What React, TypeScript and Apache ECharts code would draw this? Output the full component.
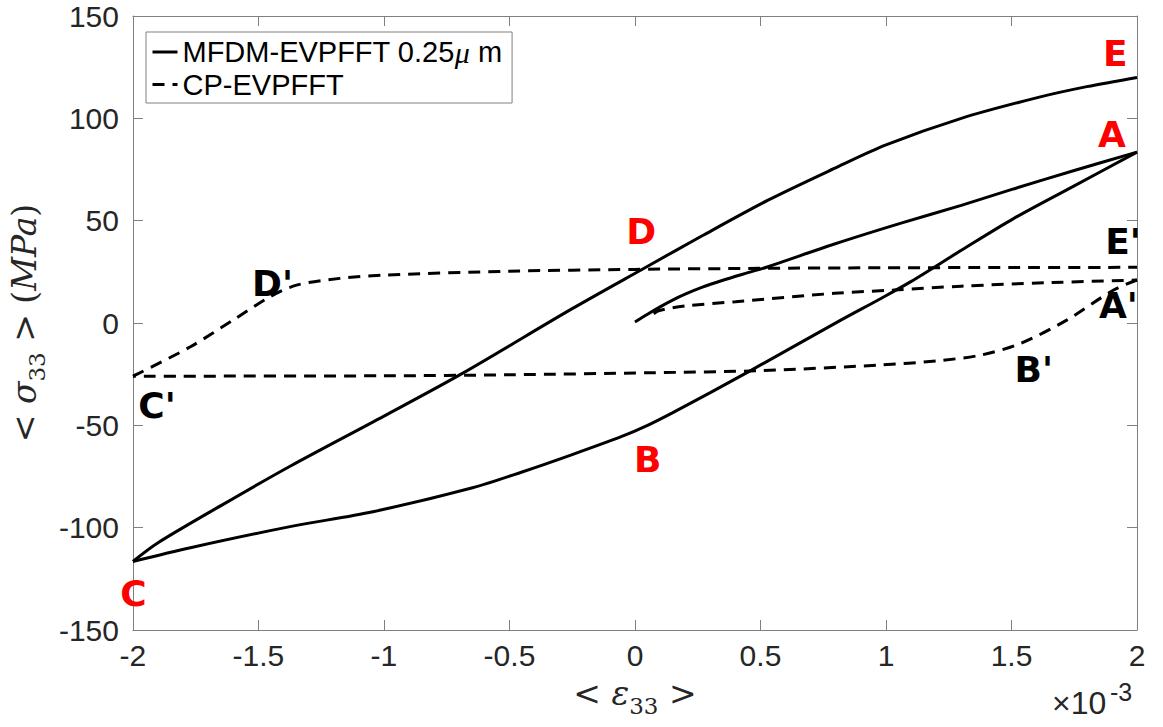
import React, { useEffect, useRef } from "react";
import * as echarts from "echarts";

// x values are in units of 1e-3 (as labelled on the axis), y in MPa
const SOLID_NAME = "MFDM-EVPFFT 0.25μ m";
const DASHED_NAME = "CP-EVPFFT";

const mfdmLoading = [
  [0.0, 0.5], [0.05, 4.3], [0.1, 7.9], [0.15, 11.2], [0.2, 14.1], [0.266, 17.4], [0.35, 20.9],
  [0.45, 24.6], [0.53, 27.5], [0.795, 38.6], [1.06, 48.8], [1.3, 57.5], [1.508, 65.5],
  [1.75, 74.5], [2.0, 83.5],
];
const mfdmUnloading = [
  [2.0, 83.5], [1.75, 67], [1.508, 51], [1.3, 35.5], [1.099, 20.2], [0.98, 12], [0.82, 1.4],
  [0.464, -23], [0.3, -34], [0.147, -44], [0.05, -50], [-0.05, -55.3], [-0.25, -64.3],
  [-0.45, -72.8], [-0.647, -80.5], [-1.044, -92.2], [-1.374, -99.5], [-1.771, -109.8],
  [-2.0, -116.5],
];
const mfdmReloading = [
  [-2.0, -116.5], [-1.903, -107.6], [-1.639, -88.5], [-1.374, -70], [-1.0, -45.5],
  [-0.693, -25], [-0.25, 7], [0.04, 27], [0.266, 42.5], [0.53, 60], [0.794, 75.5],
  [1.0, 87], [1.3, 100], [1.615, 110.5], [1.8, 115.5], [2.0, 120],
];

const cpLoading = [
  [0.075, 4.5], [0.094, 6], [0.2, 8.3], [0.4, 10.4], [0.795, 14.5], [1.03, 16.1],
  [1.3, 18], [1.64, 19.7], [2.0, 21],
];
const cpUnloading = [
  [2.0, 21], [1.905, 16], [1.72, 1.4], [1.536, -10], [1.377, -15.7], [1.2, -18.5],
  [0.98, -20.5], [0.5, -23.3], [0.067, -24.3], [-0.5, -25.3], [-1.0, -25.8], [-2.0, -26],
];
const cpReloading = [
  [-2.0, -26], [-1.983, -25], [-1.771, -11.6], [-1.6, 1.5], [-1.454, 12.8], [-1.348, 18.5],
  [-1.176, 21.8], [-1.0, 23.4], [-0.5, 25.3], [0.0, 26.2], [0.5, 26.7], [1.0, 27],
  [1.5, 27.1], [2.0, 27.2],
];

const redLabelNames = ["A", "B", "C", "D", "E"];
const redLabelPos = [[1.9, 92.2], [0.051, -66.6], [-1.998, -132.4], [0.025, 44.6], [1.914, 131.7]];
const blackLabelNames = ["A'", "B'", "C'", "D'", "E'"];
const blackLabelPos = [[1.926, 8.4], [1.589, -22.6], [-1.904, -40.1], [-1.444, 19.4], [1.944, 39.7]];

const X_MIN = -2, X_MAX = 2, X_STEP = 0.5;
const Y_MIN = -150, Y_MAX = 150, Y_STEP = 50;

const AXIS_GRAY = "#808080";
const TICK_TEXT = "#262626";
const DASH = [12, 8];

function lineSeries(name: string, data: number[][], dashed: boolean) {
  return {
    type: "line",
    name,
    data,
    symbol: "none",
    showSymbol: false,
    smooth: 0.3,
    lineStyle: { color: "#000", width: 3, type: dashed ? DASH : "solid" },
    itemStyle: { color: "#000" },
    z: dashed ? 3 : 2,
  };
}

function labelSeries(names: string[], pos: number[][], color: string) {
  return {
    type: "scatter",
    silent: true,
    symbolSize: 0,
    itemStyle: { opacity: 1, color },
    data: names.map((n, i) => ({ name: n, value: pos[i] })),
    label: {
      show: true,
      position: "inside",
      formatter: (p: any) => p.name,
      color,
      opacity: 1,
      fontSize: 36,
      fontWeight: "bold",
      fontFamily: "DejaVu Sans",
    },
    z: 10,
  };
}

export default function App() {
  const ref = useRef<HTMLDivElement>(null);
  useEffect(() => {
    const chart = echarts.init(ref.current!, null, { renderer: "svg" });
    const serifTok = { fontFamily: "DejaVu Serif", fontSize: 33, color: TICK_TEXT, verticalAlign: "bottom", padding: [0, 0, 7, 0] };
    const italTok = { ...serifTok, fontStyle: "italic" };
    const subTok = { fontFamily: "DejaVu Serif", fontSize: 23, color: TICK_TEXT, verticalAlign: "bottom", padding: [0, 0, 0, 0] };
    const baseAxis = {
      type: "value",
      splitLine: { show: false },
      axisLine: { show: true, onZero: false, lineStyle: { color: AXIS_GRAY, width: 1 } },
      axisTick: { show: true, inside: true, length: 10, lineStyle: { color: AXIS_GRAY, width: 1 } },
    };
    const option: any = {
      animation: false,
      backgroundColor: "#fff",
      textStyle: { fontFamily: "Liberation Sans" },
      grid: { left: 129, top: 16, width: 1008, height: 614, containLabel: false },
      legend: {
        data: [
          { name: SOLID_NAME, lineStyle: { width: 3, type: "solid", color: "#000" } },
          { name: DASHED_NAME, lineStyle: { width: 3, type: DASH, color: "#000" } },
        ],
        orient: "vertical",
        left: 146,
        top: 32,
        padding: [5, 10, 4, 5],
        itemGap: 3,
        itemWidth: 25,
        itemHeight: 14,
        backgroundColor: "#fff",
        borderColor: AXIS_GRAY,
        borderWidth: 1,
        borderRadius: 0,
        selectedMode: false,
        itemStyle: { opacity: 0 },
        lineStyle: { width: 3, color: "#000" },
        formatter: (name: string) =>
          name === SOLID_NAME ? "{n|MFDM-EVPFFT 0.25}{i|μ}{n| m}" : "{n|CP-EVPFFT}",
        textStyle: {
          color: "#000",
          fontSize: 29,
          rich: {
            n: { fontFamily: "Liberation Sans", fontSize: 29, color: "#000" },
            i: { fontFamily: "Liberation Serif", fontStyle: "italic", fontSize: 30, color: "#000" },
          },
        },
      },
      xAxis: [
        {
          ...baseAxis,
          position: "bottom",
          min: X_MIN,
          max: X_MAX,
          interval: X_STEP,
          axisLabel: { color: TICK_TEXT, fontSize: 30, margin: 10, fontFamily: "Liberation Sans" },
          name: "{a|< }{i|ε}{s|33}{a| >}",
          nameLocation: "middle",
          nameGap: 47,
          nameTextStyle: { rich: { a: serifTok, i: italTok, s: subTok } },
        },
        {
          ...baseAxis,
          position: "top",
          min: X_MIN,
          max: X_MAX,
          interval: X_STEP,
          axisLabel: { show: false },
        },
      ],
      yAxis: [
        {
          ...baseAxis,
          position: "left",
          min: Y_MIN,
          max: Y_MAX,
          interval: Y_STEP,
          axisLabel: { color: TICK_TEXT, fontSize: 30, margin: 14, fontFamily: "Liberation Sans" },
          name: "{a|< }{i|σ}{s|33}{a| > (}{i|MPa}{a|)}",
          nameLocation: "middle",
          nameRotate: 90,
          nameGap: 80,
          nameTextStyle: { rich: { a: serifTok, i: italTok, s: subTok } },
        },
        {
          ...baseAxis,
          position: "right",
          min: Y_MIN,
          max: Y_MAX,
          interval: Y_STEP,
          axisLabel: { show: false },
        },
      ],
      graphic: [
        {
          type: "text",
          left: 1052,
          top: 687,
          style: { text: "×10", fontSize: 32, fontFamily: "Liberation Sans", fill: TICK_TEXT },
        },
        {
          type: "text",
          left: 1110,
          top: 679,
          style: { text: "-3", fontSize: 25, fontFamily: "Liberation Sans", fill: TICK_TEXT },
        },
      ],
      series: [
        lineSeries(SOLID_NAME, mfdmLoading, false),
        lineSeries(SOLID_NAME, mfdmUnloading, false),
        lineSeries(SOLID_NAME, mfdmReloading, false),
        lineSeries(DASHED_NAME, cpLoading, true),
        lineSeries(DASHED_NAME, cpUnloading, true),
        lineSeries(DASHED_NAME, cpReloading, true),
        labelSeries(redLabelNames, redLabelPos, "#ff0000"),
        labelSeries(blackLabelNames, blackLabelPos, "#000000"),
      ],
    };
    chart.setOption(option);
    return () => chart.dispose();
  }, []);
  return (
    <div
      ref={ref}
      style={{ position: "fixed", left: 0, top: 0, width: 1163, height: 727, background: "#fff" }}
    />
  );
}
